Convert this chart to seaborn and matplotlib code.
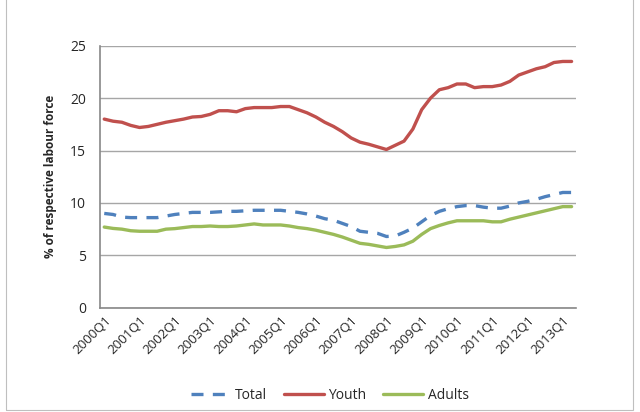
import numpy as np
import pandas as pd
import matplotlib
matplotlib.use("Agg")
import matplotlib.pyplot as plt
import seaborn as sns
from matplotlib.patches import Rectangle

# quarterly unemployment rates, 2000Q1 .. 2013Q2
quarters = [f"{y}Q{q}" for y in range(2000, 2014) for q in range(1, 5)][:54]

total = [9.0, 8.9, 8.65, 8.6, 8.6, 8.6, 8.6, 8.75, 8.9, 9.0,
         9.1, 9.1, 9.1, 9.15, 9.2, 9.2, 9.25, 9.3, 9.3, 9.3,
         9.3, 9.2, 9.1, 8.95, 8.75, 8.5, 8.35, 8.05, 7.75, 7.3,
         7.2, 7.1, 6.8, 6.85, 7.2, 7.6, 8.2, 8.8, 9.2, 9.45,
         9.65, 9.75, 9.75, 9.6, 9.5, 9.5, 9.7, 10.0, 10.15, 10.35,
         10.6, 10.8, 11.0, 11.0]

youth = [18.0, 17.8, 17.7, 17.4, 17.2, 17.3, 17.5, 17.7, 17.85, 18.0,
         18.2, 18.25, 18.45, 18.8, 18.8, 18.7, 19.0, 19.1, 19.1, 19.1,
         19.2, 19.2, 18.9, 18.6, 18.2, 17.7, 17.3, 16.8, 16.2, 15.8,
         15.6, 15.35, 15.1, 15.5, 15.9, 17.05, 18.9, 20.0, 20.8, 21.0,
         21.35, 21.35, 21.0, 21.1, 21.1, 21.25, 21.6, 22.2, 22.5, 22.8,
         23.0, 23.4, 23.5, 23.5]

adults = [7.7, 7.57, 7.5, 7.35, 7.3, 7.3, 7.3, 7.5, 7.55, 7.65,
          7.75, 7.75, 7.8, 7.75, 7.75, 7.8, 7.9, 8.0, 7.9, 7.9,
          7.9, 7.8, 7.65, 7.55, 7.4, 7.2, 7.0, 6.75, 6.45, 6.15,
          6.05, 5.9, 5.75, 5.85, 6.0, 6.35, 7.0, 7.55, 7.85, 8.1,
          8.3, 8.3, 8.3, 8.3, 8.2, 8.2, 8.45, 8.65, 8.85, 9.05,
          9.25, 9.45, 9.65, 9.65]

series_names = ["Total", "Youth", "Adults"]
colors = {"Total": "#4F81BD", "Youth": "#C0504D", "Adults": "#9BBB59"}

df = pd.DataFrame({"Quarter": quarters, "Total": total, "Youth": youth, "Adults": adults})
df["pos"] = np.arange(len(df))
long_df = df.melt(id_vars=["Quarter", "pos"], value_vars=series_names,
                  var_name="Series", value_name="Rate")

sns.set_style("white")
plt.rcParams["font.family"] = ["Open Sans", "DejaVu Sans"]

fig = plt.figure(figsize=(6.4, 4.12), dpi=100)
ax = fig.add_axes([0.156, 0.253, 0.744, 0.636])

sns.lineplot(data=long_df, x="pos", y="Rate", hue="Series", style="Series",
             hue_order=series_names, style_order=series_names,
             palette=colors, dashes={"Total": (3.6, 2.8), "Youth": "", "Adults": ""},
             linewidth=2.4, ax=ax, legend=False)

ax.set_xlim(-0.5, len(quarters) - 0.5)
ax.set_ylim(0, 25)
ax.set_yticks(range(0, 26, 5))
ax.yaxis.grid(True, color="#A6A6A6", linewidth=1)
ax.set_axisbelow(True)
ax.set_xticks(df["pos"][::4])
ax.set_xticklabels(df["Quarter"][::4], rotation=45, ha="right", rotation_mode="anchor",
                   fontsize=9.5)
ax.tick_params(axis="y", labelsize=10, length=0, pad=10)
ax.tick_params(axis="x", length=0, pad=4)
ax.set_xlabel("")
ax.set_ylabel("% of respective labour force", fontsize=8.5, fontweight="bold", labelpad=9)

for side in ["top", "right"]:
    ax.spines[side].set_visible(False)
for side in ["left", "bottom"]:
    ax.spines[side].set_color("#888888")
    ax.spines[side].set_linewidth(1.2)

# legend drawn with proxy lines
handles = [plt.Line2D([], [], color=colors["Total"], lw=2.4, dashes=(3.6, 2.8)),
           plt.Line2D([], [], color=colors["Youth"], lw=2.4),
           plt.Line2D([], [], color=colors["Adults"], lw=2.4)]
fig.legend(handles, series_names, loc="center", bbox_to_anchor=(0.515, 0.04), ncol=3,
           frameon=False, fontsize=10, handlelength=2.9, handletextpad=0.3,
           columnspacing=1.2)

fig.patches.append(Rectangle((0.009, 0.004), 0.98, 1.2, transform=fig.transFigure,
                             fill=False, edgecolor="#BFBFBF", linewidth=0.8))

fig.savefig("out.png", dpi=100)
